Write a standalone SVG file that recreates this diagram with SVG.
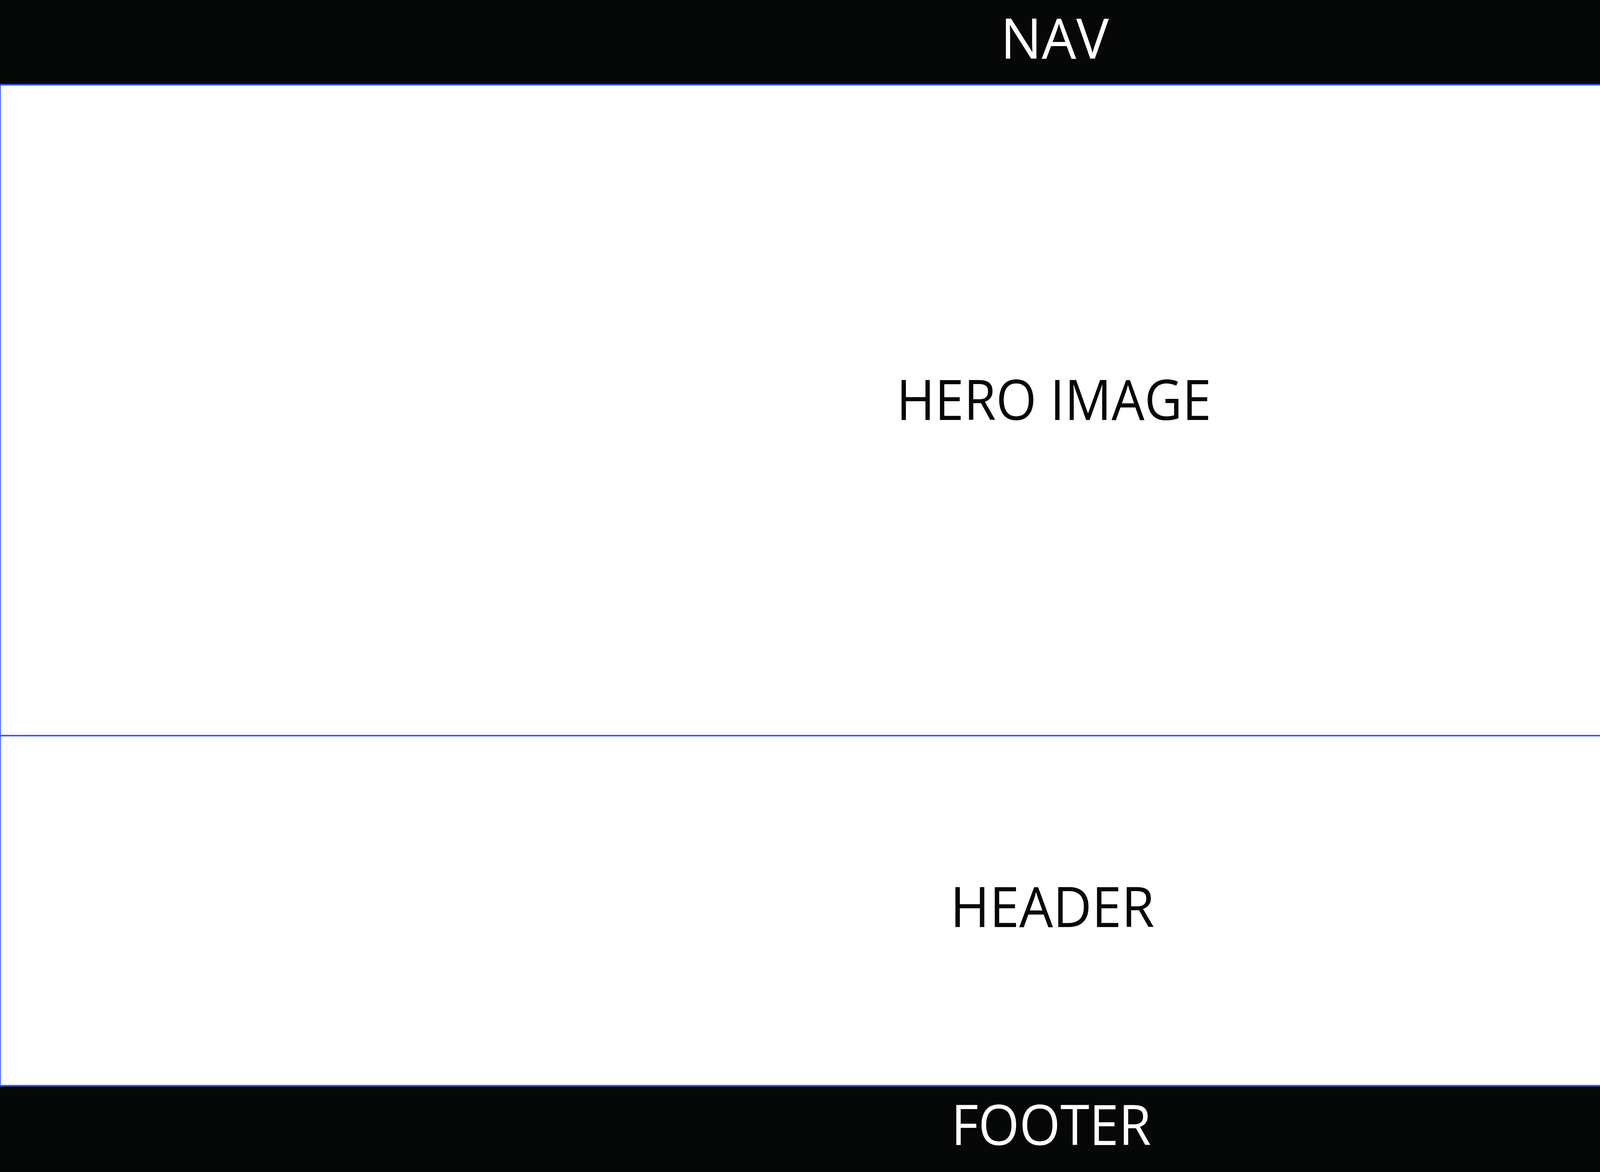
<svg xmlns="http://www.w3.org/2000/svg" width="5333" height="3000" viewBox="0 0 5333 3000">
  <style>
    .bar { fill: #060807; }
    .panel { fill: #ffffff; stroke: #3a5afc; stroke-width: 4; }
    .lbl { font-family: "Open Sans", "Noto Sans", "Liberation Sans", sans-serif; font-size: 142px; text-anchor: middle; }
    .lbl-light { fill: #ffffff; }
    .lbl-dark { fill: #060807; }
  </style>
  <rect x="0" y="0" width="5333" height="3000" fill="#ffffff"/>
  <g id="nav">
    <rect class="bar" x="0" y="0" width="5333" height="217"/>
    <text class="lbl lbl-light" x="2700" y="150" textLength="277" lengthAdjust="spacingAndGlyphs">NAV</text>
  </g>
  <g id="footer">
    <rect class="bar" x="0" y="2779" width="5333" height="221"/>
    <text class="lbl lbl-light" x="2691" y="2931" textLength="512" lengthAdjust="spacingAndGlyphs">FOOTER</text>
  </g>
  <g id="hero-image">
    <rect class="panel" x="0" y="217" width="5333" height="1666"/>
    <text class="lbl lbl-dark" x="2698" y="1075" textLength="806" lengthAdjust="spacingAndGlyphs">HERO IMAGE</text>
  </g>
  <g id="header">
    <rect class="panel" x="0" y="1883" width="5333" height="896"/>
    <text class="lbl lbl-dark" x="2694" y="2373" textLength="523" lengthAdjust="spacingAndGlyphs">HEADER</text>
  </g>
  <g id="connectors"></g>
</svg>
